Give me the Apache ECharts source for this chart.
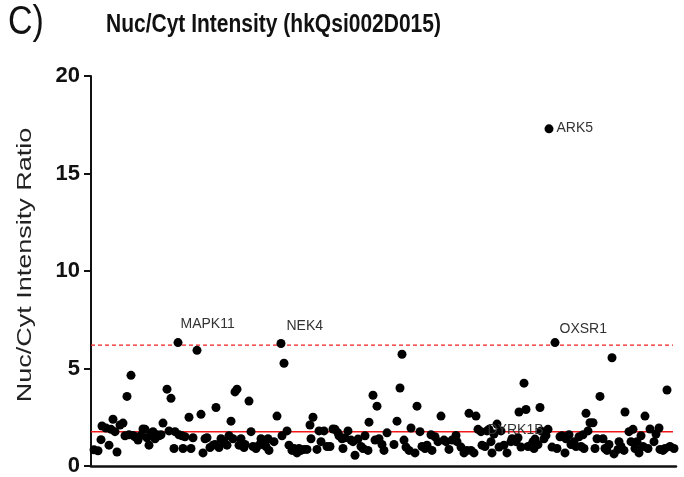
<!DOCTYPE html>
<html>
<head>
<meta charset="utf-8">
<script src="https://cdn.jsdelivr.net/npm/echarts@6/dist/echarts.min.js"></script>
<style>html,body{margin:0;padding:0;background:#fff}#c{width:684px;height:477px}</style>
</head>
<body>
<div id="c"></div>
<script>
// gene positions along the screen order (index units) and Nuc/Cyt ratios
const geneX = [3,7,10,11,15,18,20,22,24,26,29,32,34,36,38,40,42,44,47,50,52,54,56,58,60,62,64,66,68,70,72,76,78,80,83,84,88,91,92,94,98,100,102,106,110,112,114,116,119,122,124,125,128,130,133,136,138,140,142,144,146,
  148,150,153,154,158,160,162,165,168,170,172,175,177,178,183,186,191,193,196,198,201,203,206,208,210,213,216,219,220,222,226,228,230,233,236,239,242,244,247,248,251,252,254,257,260,262,264,267,270,272,274,277,278,282,284,286,288,291,293,296,
  303,306,309,311,313,315,318,320,324,326,329,331,334,336,340,341,344,347,350,353,355,358,361,365,366,370,373,376,378,380,383,385,387,391,394,396,398,400,401,403,406,408,410,413,416,420,421,425,427,428,430,433,435,437,440,442,
  443,444,447,449,450,453,455,457,461,466,469,471,474,475,478,480,483,485,488,490,492,493,495,497,499,502,504,506,509,512,514,516,518,521,523,527,528,530,533,534,538,540,542,544,546,548,550,552,554,557,559,563,565,568,569,572,574,576,579,583];
const ratio = [0.83,0.78,1.35,2.05,1.95,1.07,1.88,2.4,1.76,0.72,2.1,2.2,1.55,3.57,1.6,4.65,1.57,1.5,1.33,1.57,1.9,1.88,1.45,1.07,1.64,1.76,1.4,1.6,1.55,1.6,2.2,3.94,1.8,3.47,0.9,1.76,1.6,1.55,0.9,1.5,2.5,0.9,1.45,5.93,2.65,0.67,1.4,1.45,0.95,1.07,1.1,3.0,0.95,1.4,1.25,1.07,1.55,2.3,1.4,3.8,3.94,1.07,
  1.4,0.95,1.1,3.33,1.76,1.0,0.9,1.07,1.4,1.3,1.0,1.4,0.8,1.25,2.56,1.55,5.27,1.8,1.07,0.8,0.9,0.67,0.9,0.8,0.85,0.85,2.1,1.4,2.5,0.85,1.8,1.25,1.8,1.0,1.0,1.9,1.88,1.7,1.55,1.4,0.9,1.45,1.8,1.33,1.25,0.55,1.38,1.0,0.9,1.55,0.8,2.25,3.63,1.33,3.07,1.4,1.1,0.8,1.7,1.1,2.3,4.0,5.73,
  1.33,0.97,0.8,1.95,0.67,3.07,1.76,1.0,0.9,1.07,1.6,0.8,1.5,1.25,2.56,1.33,1.25,0.85,1.33,1.57,1.25,0.97,0.67,0.8,2.7,0.8,0.67,2.56,1.88,1.07,1.0,1.8,1.88,1.25,0.67,1.64,2.15,0.97,1.8,1.07,0.67,1.25,1.4,1.25,1.45,2.77,0.97,4.25,2.9,1.0,1.07,1.25,0.9,1.38,1.1,3.0,
  1.8,1.4,1.57,1.88,0.97,0.9,1.5,1.55,0.67,1.4,1.6,1.1,1.25,1.0,1.5,1.0,1.6,0.9,2.7,1.8,2.22,2.22,0.9,1.4,3.57,1.4,0.9,0.8,1.1,5.55,0.62,0.85,1.25,1.0,0.8,2.77,1.76,1.25,1.88,0.9,1.25,0.67,1.55,1.0,2.56,0.9,1.9,1.25,1.64,1.95,0.85,0.8,0.9,3.9,1.0,0.9,1.76,0.67,2.77,1.45];
// labelled hits
const hitNames = ['MAPK11','NEK4','DYRK1B','ARK5','OXSR1'];
const hitX = [87,190,390,458,464];
const hitY = [6.33,6.28,1.76,17.29,6.33];
// reference lines (value, x-extent)
const medianLine = 1.76;
const cutoffLine = 6.2;
const lineXExtent = [0, 582];
const yTicks = [0,5,10,15,20];

const labelPos = {
  MAPK11:[7,-14], NEK4:[10,-13], DYRK1B:[11,3], ARK5:[12,4], OXSR1:[9,-9]
};
const FONT = 'Arial, "Liberation Sans", sans-serif';
const chart = echarts.init(document.getElementById('c'));
const pts = geneX.map((x,i)=>[x, ratio[i]]);
const hits = hitNames.map((n,i)=>({
  value:[hitX[i], hitY[i]], name:n,
  label:{show:true, formatter:n, position:labelPos[n], align:'left', verticalAlign:'middle',
    fontFamily:FONT, fontSize:14, color:'#333'}
}));
chart.setOption({
  animation:false,
  grid:{left:91, right:8, top:76, bottom:10, containLabel:false},
  xAxis:{type:'value', min:0, max:585, axisLine:{show:true, onZero:false, lineStyle:{color:'#111', width:2.5}},
    axisTick:{show:false}, axisLabel:{show:false}, splitLine:{show:false}},
  yAxis:{type:'value', min:yTicks[0], max:yTicks[yTicks.length-1], interval:5,
    axisLine:{show:true, lineStyle:{color:'#111', width:2}},
    axisTick:{show:true, length:7, lineStyle:{color:'#111', width:2}},
    axisLabel:{fontFamily:FONT, fontWeight:'bold', fontSize:22, color:'#111', margin:11},
    splitLine:{show:false}},
  graphic:[
    {type:'text', x:8, y:23, scaleY:1.18, style:{text:'C)', font:'34px '+FONT, fill:'#111', textVerticalAlign:'middle'}},
    {type:'text', x:106, y:25, scaleY:1.2, style:{text:'Nuc/Cyt Intensity (hkQsi002D015)', font:'bold 21px '+FONT, fill:'#111', textVerticalAlign:'middle'}},
    {type:'text', x:25, y:265, rotation:Math.PI/2, scaleX:1.35, style:{text:'Nuc/Cyt Intensity Ratio', font:'20px '+FONT, fill:'#222', textAlign:'center', textVerticalAlign:'middle'}}
  ],
  series:[
    {type:'line', data:lineXExtent.map(x=>[x, medianLine]), symbol:'none', silent:true, z:2,
     lineStyle:{color:'#f01818', width:1.6, type:'solid'}},
    {type:'line', data:lineXExtent.map(x=>[x, cutoffLine]), symbol:'none', silent:true, z:2,
     lineStyle:{color:'#f02020', width:1.4, type:[4,3]}},
    {type:'scatter', data:pts, symbolSize:9, itemStyle:{color:'#000', opacity:1}, z:3},
    {type:'scatter', data:hits, symbolSize:9, itemStyle:{color:'#000', opacity:1}, z:4}
  ]
});
</script>
</body>
</html>
